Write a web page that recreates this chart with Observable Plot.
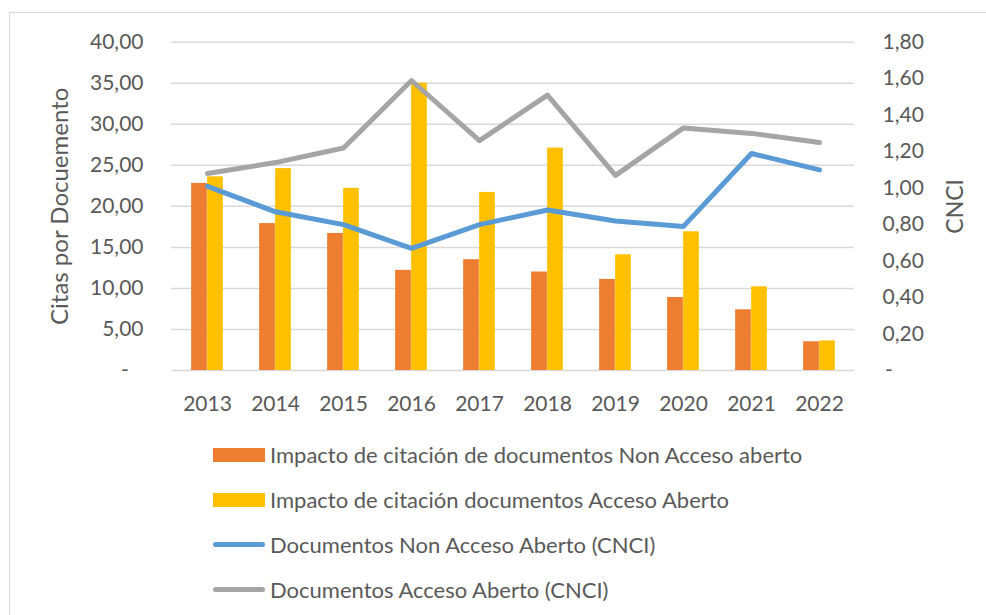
<!DOCTYPE html>
<html>
<head>
<meta charset="utf-8">
<script src="https://cdn.jsdelivr.net/npm/d3@7"></script>
<script src="https://cdn.jsdelivr.net/npm/@observablehq/plot@0.6"></script>
<style>
  html, body { margin: 0; padding: 0; background: #fff; }
  body { width: 986px; height: 615px; position: relative; overflow: hidden; font-family: Lato, "Open Sans", sans-serif; color: #595959; }
  #frame { position: absolute; left: 9px; top: 12px; width: 1000px; height: 700px; border: 1.5px solid #d9d9d9; box-sizing: border-box; }
  #chart { position: absolute; left: 0; top: 0; }
  #legend { position: absolute; left: 213px; top: 432px; }
  .row { display: flex; align-items: center; height: 45px; font-size: 22px; }
  .sw { width: 52px; height: 14px; margin-right: 5px; }
  .ln { width: 52px; height: 5px; border-radius: 3px; margin-right: 5px; }
</style>
</head>
<body>
<div id="frame"></div>
<div id="chart"></div>
<div id="legend"></div>
<script>
// ---- data ----
const years = ["2013","2014","2015","2016","2017","2018","2019","2020","2021","2022"];
const impactoNonAA = [22.8, 17.9, 16.7, 12.2, 13.5, 12.0, 11.1, 8.9, 7.4, 3.5];
const impactoAA    = [23.6, 24.6, 22.2, 35.0, 21.7, 27.1, 14.1, 16.9, 10.2, 3.6];
const cnciNonAA    = [1.01, 0.87, 0.80, 0.67, 0.80, 0.88, 0.82, 0.79, 1.19, 1.10];
const cnciAA       = [1.08, 1.14, 1.22, 1.59, 1.26, 1.51, 1.07, 1.33, 1.30, 1.25];
const leftTicks  = [0, 5, 10, 15, 20, 25, 30, 35, 40];
const rightTicks = [0, 0.2, 0.4, 0.6, 0.8, 1.0, 1.2, 1.4, 1.6, 1.8];
const seriesNames = [
  "Impacto de citación de documentos Non Acceso aberto",
  "Impacto de citación documentos Acceso Aberto",
  "Documentos Non Acceso Aberto (CNCI)",
  "Documentos Acceso Aberto (CNCI)"
];
const colors = ["#ED7D31", "#FFC000", "#5B9BD5", "#A5A5A5"];
const leftTitle = "Citas por Docuemento";
const rightTitle = "CNCI";

const k = 40 / 1.8; // right axis -> left axis
const rows = years.map((year, i) => ({
  year, nonAA: impactoNonAA[i], aa: impactoAA[i],
  cNonAA: cnciNonAA[i] * k, cAA: cnciAA[i] * k
}));

const fmt = d3.format(",.2f");
const es = v => fmt(v).replace(".", "#").replace(",", ".").replace("#", ",");

const chart = Plot.plot({
  width: 986,
  height: 430,
  marginTop: 41.7,
  marginLeft: 171,
  marginRight: 132,
  marginBottom: 60,
  style: { fontFamily: "Lato, 'Open Sans', sans-serif", fontSize: "21px", color: "#595959", background: "transparent" },
  x: { type: "band", domain: years, padding: 0 },
  y: { domain: [0, 40] },
  marks: [
    Plot.gridY(leftTicks, { stroke: "#d9d9d9", strokeOpacity: 1, strokeWidth: 1.5 }),
    Plot.barY(rows, { x: "year", y: "nonAA", fill: colors[0], insetLeft: 26.15, insetRight: 26.15, dx: -8 }),
    Plot.barY(rows, { x: "year", y: "aa", fill: colors[1], insetLeft: 26.15, insetRight: 26.15, dx: 8 }),
    Plot.line(rows, { x: "year", y: "cNonAA", stroke: colors[2], strokeWidth: 5, strokeLinecap: "round", strokeLinejoin: "round" }),
    Plot.line(rows, { x: "year", y: "cAA", stroke: colors[3], strokeWidth: 5, strokeLinecap: "round", strokeLinejoin: "round" }),
    Plot.axisX({ tickSize: 0, tickPadding: 26, fontSize: 21, fill: "#595959", label: null }),
    Plot.axisY({ anchor: "left", ticks: leftTicks, tickSize: 0, tickPadding: 28, fontSize: 21, fill: "#595959", label: null,
      tickFormat: d => d === 0 ? "-\u2007\u2009" : es(d) }),
    Plot.axisY({ anchor: "right", ticks: rightTicks.map(v => v * k), tickSize: 0, tickPadding: 28, fontSize: 21, fill: "#595959", label: null,
      tickFormat: d => d === 0 ? "\u2009-" : es(d / k) }),
    Plot.text([leftTitle], { text: d => d, frameAnchor: "left", dx: -111, rotate: -90, fontSize: 24, fill: "#595959", textAnchor: "middle", lineAnchor: "middle" }),
    Plot.text([rightTitle], { text: d => d, frameAnchor: "right", dx: 101, rotate: -90, fontSize: 23, fill: "#595959", textAnchor: "middle", lineAnchor: "middle" })
  ]
});
document.getElementById("chart").appendChild(chart);

const legend = document.getElementById("legend");
seriesNames.forEach((name, i) => {
  const row = document.createElement("div");
  row.className = "row";
  const sw = document.createElement("div");
  sw.className = i < 2 ? "sw" : "ln";
  sw.style.background = colors[i];
  const t = document.createElement("span");
  t.textContent = name;
  row.appendChild(sw);
  row.appendChild(t);
  legend.appendChild(row);
});
</script>
</body>
</html>
